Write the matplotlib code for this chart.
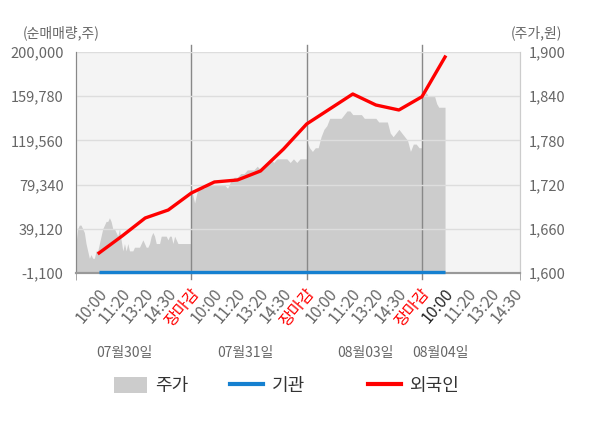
import numpy as np
import matplotlib
matplotlib.use('Agg')
import matplotlib.pyplot as plt
from matplotlib.lines import Line2D
from matplotlib.patches import Patch
from matplotlib.transforms import ScaledTranslation

plt.rcParams['font.family'] = ['Noto Sans CJK KR', 'DejaVu Sans']

# x axis labels (one slot per label, days are 5 slots wide)
tick_labels = ['10:00', '11:20', '13:20', '14:30', '장마감',
               '10:00', '11:20', '13:20', '14:30', '장마감',
               '10:00', '11:20', '13:20', '14:30', '장마감',
               '10:00', '11:20', '13:20', '14:30']
day_labels = ['07월30일', '07월31일', '08월03일', '08월04일']

# net buying (shares), one value per slot 1..16
flow_slots = list(range(1, 17))
foreign = [17100, 32570, 48950, 56230, 71700, 81710, 83530, 91720,
           111740, 134490, 148140, 161790, 151780, 147230, 159330, 195460]
institution = [0] * 16

# intraday price (won) per day
price_day1 = [1640, 1660, 1665, 1665, 1660, 1655, 1640, 1630, 1620, 1625,
              1620, 1620, 1630, 1630, 1640, 1650, 1660, 1665, 1670, 1670,
              1675, 1670, 1660, 1660, 1655, 1650, 1660, 1645, 1630, 1640,
              1630, 1640, 1630, 1630, 1630, 1635, 1635, 1635, 1635, 1640,
              1645, 1640, 1635, 1635, 1640, 1650, 1655, 1650, 1640, 1640,
              1640, 1650, 1650, 1650, 1650, 1645, 1650, 1650, 1640, 1650,
              1645, 1640, 1640, 1640, 1640, 1640, 1640, 1640, 1640, 1640]
price_day2 = [1715, 1695, 1715, 1715, 1715, 1720, 1720, 1720, 1720, 1720,
              1720, 1715, 1725, 1730, 1730, 1735, 1735, 1740, 1740, 1740,
              1745, 1740, 1745, 1750, 1755, 1750, 1755, 1755, 1755, 1755,
              1750, 1755, 1750, 1755, 1755, 1755]
price_day3 = [1780, 1770, 1765, 1770, 1770, 1785, 1795, 1800, 1810, 1810,
              1810, 1810, 1810, 1815, 1820, 1820, 1815, 1815, 1815, 1815,
              1810, 1810, 1810, 1810, 1810, 1805, 1805, 1805, 1805, 1790,
              1785, 1790, 1795, 1790, 1785, 1780, 1765, 1775, 1775, 1770,
              1770]
price_day4 = [1840, 1840, 1845, 1840, 1840, 1840, 1840, 1830, 1825, 1825,
              1825, 1825]

left_ticks = [-1100, 39120, 79340, 119560, 159780, 200000]
right_ticks = [1600, 1660, 1720, 1780, 1840, 1900]

fig = plt.figure(figsize=(6, 4.28), dpi=100)
ax = fig.add_axes([76 / 600, 1 - 273 / 428, 444 / 600, 221 / 428])
ax2 = ax.twinx()

# price area (right axis), spread each day evenly over its 5 slots
px, py = [], []
for d, prices in enumerate([price_day1, price_day2, price_day3, price_day4]):
    if d < 3:
        xs = np.linspace(d * 5, d * 5 + 5, len(prices))
    else:
        xs = np.linspace(d * 5, d * 5 + 1, len(prices))
    px.extend(xs)
    py.extend(prices)
ax2.fill_between(px, 1600, py, color='#cccccc', lw=0)
ax2.set_ylim(1600, 1900)
ax2.patch.set_visible(True)
ax2.patch.set_facecolor('#f4f4f4')

ax.set_zorder(ax2.get_zorder() + 1)
ax.patch.set_visible(False)

ax.plot(flow_slots, institution, color='#1580d0', lw=2.4, solid_capstyle='butt',
        zorder=4, clip_on=False)
ax.plot(flow_slots, foreign, color='#ff0000', lw=2.4, zorder=5)

ax.set_xlim(0, 19.25)
ax.set_ylim(-1100, 200000)
ax.set_yticks(left_ticks, [f'{v:,}' for v in left_ticks])
ax2.set_yticks(right_ticks, [f'{v:,}' for v in right_ticks])
ax.grid(axis='y', color='#dddddd', lw=1)
ax.grid(axis='x', visible=False)

# day separators
for xd in [5, 10, 15]:
    ax.plot([xd, xd], [-6 / 221, 1 + 7 / 221], color='#888888', lw=1,
            transform=ax.get_xaxis_transform(), clip_on=False, zorder=1)

ax.set_xticks(range(1, 20), tick_labels)
ax.set_xticks([0, 19.25], minor=True)
ax.tick_params(axis='x', which='major', length=0, pad=13, labelsize=11.5,
               labelcolor='#666666')
ax.tick_params(axis='x', which='minor', length=5, color='#999999')
off = ScaledTranslation(5 / 100, 0, fig.dpi_scale_trans)
for i, lab in enumerate(ax.get_xticklabels()):
    lab.set_rotation(50)
    lab.set_ha('right')
    lab.set_va('center')
    lab.set_rotation_mode('anchor')
    lab.set_transform(lab.get_transform() + off)
    if tick_labels[i] == '장마감':
        lab.set_color('#ff0000')
    elif i == 15:
        lab.set_color('#222222')

ax.tick_params(axis='y', length=0, pad=9, labelsize=10.5, labelcolor='#666666')
ax2.tick_params(axis='y', length=0, pad=6, labelsize=10.5, labelcolor='#666666')

for a in (ax, ax2):
    a.spines['top'].set_visible(False)
    a.spines['left'].set_color('#888888')
    a.spines['right'].set_color('#cccccc')
    a.spines['bottom'].set_color('#999999')
    a.spines['bottom'].set_linewidth(1.5)

# date labels under the ticks
for xd, txt in zip([2.08, 7.33, 12.53, 15.8], day_labels):
    ax.text(xd, -0.362, txt, transform=ax.get_xaxis_transform(),
            ha='center', va='center', fontsize=10, color='#666666')

fig.text(23 / 600, 1 - 33 / 428, '(순매매량,주)', ha='left', va='center',
         fontsize=10, color='#666666')
fig.text(562 / 600, 1 - 33 / 428, '(주가,원)', ha='right', va='center',
         fontsize=10, color='#666666')

# legend, one entry at a time to keep the original spacing
entries = [(Patch(facecolor='#cccccc', edgecolor='none'), '주가', 114),
           (Line2D([], [], color='#1580d0', lw=3), '기관', 230),
           (Line2D([], [], color='#ff0000', lw=3), '외국인', 368)]
for h, lbl, xl in entries:
    fig.legend([h], [lbl], loc='center left', bbox_to_anchor=(xl / 600, 1 - 386 / 428),
               frameon=False, fontsize=13, handlelength=1.8, handleheight=1.0,
               handletextpad=0.5, borderpad=0, borderaxespad=0,
               labelcolor='#333333')

fig.savefig('out.png', dpi=100)
